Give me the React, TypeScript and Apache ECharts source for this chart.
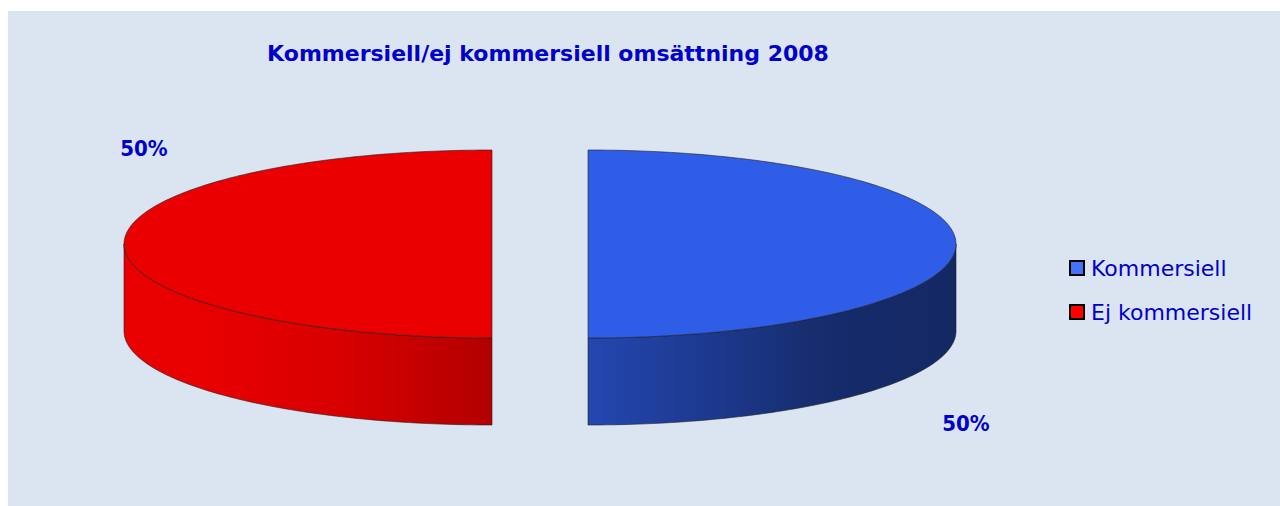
import React, { useEffect, useRef } from "react";
import * as echarts from "echarts";

const categories = ["Kommersiell", "Ej kommersiell"];
const values = [50, 50];
const sliceColors = ["#2f5de8", "#ea0000"];
const legendColors = ["#4472ff", "#ff0000"];
const titleText = "Kommersiell/ej kommersiell omsättning 2008";

const CX = 540;
const CY = 244;
const RX = 368;
const RY = 94;
const DEPTH = 87;
const EXPLODE = 48;
const D = Math.PI / 180;
const TEXT_BLUE = "#0000cc";
const FONT = "'DejaVu Sans', sans-serif";
const LABEL_FONT = "'DejaVu Sans Condensed', 'DejaVu Sans', sans-serif";

const SHADE: number[][] = [
  [0, 0.42],
  [50, 0.46],
  [90, 0.76],
  [115, 0.93],
  [140, 0.99],
  [180, 1],
];

function shade(phi: number): number {
  for (let i = 1; i < SHADE.length; i++) {
    if (phi <= SHADE[i][0]) {
      const [a0, s0] = SHADE[i - 1];
      const [a1, s1] = SHADE[i];
      return s0 + ((s1 - s0) * (phi - a0)) / (a1 - a0);
    }
  }
  return 1;
}

function scaleColor(hex: string, k: number): string {
  const n = parseInt(hex.slice(1), 16);
  const r = (n >> 16) & 255;
  const g = (n >> 8) & 255;
  const b = n & 255;
  return `rgb(${Math.round(r * k)},${Math.round(g * k)},${Math.round(b * k)})`;
}

function renderSlice(params: any, api: any) {
  const idx = params.seriesIndex;
  const total = values.reduce((a, b) => a + b, 0);
  let cum = 0;
  for (let k = 0; k < idx; k++) cum += values[k];
  const v = api.value(0);
  const start = -90 + (360 * cum) / total;
  const end = start + (360 * v) / total;
  const mid = ((start + end) / 2) * D;
  const cx = CX + EXPLODE * Math.cos(mid);
  const cy = CY + (EXPLODE * Math.sin(mid) * RY) / RX;
  const base = sliceColors[idx];
  const pt = (deg: number, dz: number) => [
    cx + RX * Math.cos(deg * D),
    cy + RY * Math.sin(deg * D) + dz,
  ];
  const arc = (a: number, b: number, dz: number) => {
    const n = Math.max(2, Math.ceil(Math.abs(b - a)));
    const out: number[][] = [];
    for (let i = 0; i <= n; i++) out.push(pt(a + ((b - a) * i) / n, dz));
    return out;
  };
  const stroke = "rgba(30,30,30,0.75)";
  const children: any[] = [];

  for (let k = -1; k <= 1; k++) {
    const a = Math.max(start, 360 * k);
    const b = Math.min(end, 360 * k + 180);
    if (b - a > 0.01) {
      const pts = [...arc(a, b, 0), ...arc(b, a, DEPTH)];
      const xMin = cx + RX * Math.cos(b * D);
      const xMax = cx + RX * Math.cos(a * D);
      const stops: any[] = [];
      const n = 12;
      for (let i = 0; i <= n; i++) {
        const phi = a + ((b - a) * i) / n;
        const x = cx + RX * Math.cos(phi * D);
        const off = xMax - xMin > 0 ? (x - xMin) / (xMax - xMin) : 0;
        stops.push({ offset: Math.min(1, Math.max(0, off)), color: scaleColor(base, shade(phi - 360 * k)) });
      }
      stops.sort((p, q) => p.offset - q.offset);
      children.push({
        type: "polygon",
        shape: { points: pts },
        style: {
          fill: new echarts.graphic.LinearGradient(0, 0, 1, 0, stops),
          stroke,
          lineWidth: 0.8,
        },
      });
    }
  }

  children.push({
    type: "polygon",
    shape: { points: [[cx, cy], ...arc(start, end, 0)] },
    style: { fill: base, stroke, lineWidth: 0.8 },
  });

  const la = mid + 45 * D;
  children.push({
    type: "text",
    x: cx + RX * 1.395 * Math.cos(la) + 15,
    y: CY + DEPTH / 2 + (RY + DEPTH / 2) * 1.414 * Math.sin(la) - 1.5,
    style: {
      text: Math.round((v / total) * 100) + "%",
      fill: TEXT_BLUE,
      font: `bold 22px ${LABEL_FONT}`,
      align: "center",
      verticalAlign: "middle",
    },
  });

  return { type: "group", children };
}

export default function App() {
  const ref = useRef<HTMLDivElement>(null);
  useEffect(() => {
    if (!ref.current) return;
    const chart = echarts.init(ref.current, undefined, { renderer: "svg" });
    chart.setOption({
      animation: false,
      backgroundColor: "#ffffff",
      graphic: [
        {
          type: "rect",
          z: -10,
          shape: { x: 8, y: 11, width: 1272, height: 495 },
          style: { fill: "#dbe5f1" },
          silent: true,
        },
        {
          type: "text",
          x: 548,
          y: 53,
          style: {
            text: titleText,
            fill: TEXT_BLUE,
            font: `bold 22px ${FONT}`,
            align: "center",
            verticalAlign: "middle",
          },
        },
      ],
      legend: {
        orient: "vertical",
        left: 1064,
        top: 252,
        itemWidth: 14,
        itemHeight: 14,
        itemGap: 22,
        icon: "rect",
        textStyle: {
          color: TEXT_BLUE,
          fontSize: 22,
          lineHeight: 22,
          fontFamily: FONT,
          padding: [0, 0, 0, 2],
        },
        data: categories.map((name, i) => ({
          name,
          itemStyle: { color: legendColors[i], borderColor: "#000", borderWidth: 2 },
        })),
      },
      series: categories.map((name, i) => ({
        type: "custom",
        name,
        coordinateSystem: "none",
        itemStyle: { color: sliceColors[i] },
        data: [[values[i]]],
        renderItem: renderSlice,
      })),
    });
    return () => chart.dispose();
  }, []);
  return (
    <div
      ref={ref}
      style={{ position: "absolute", left: 0, top: 0, width: 1280, height: 506 }}
    />
  );
}
